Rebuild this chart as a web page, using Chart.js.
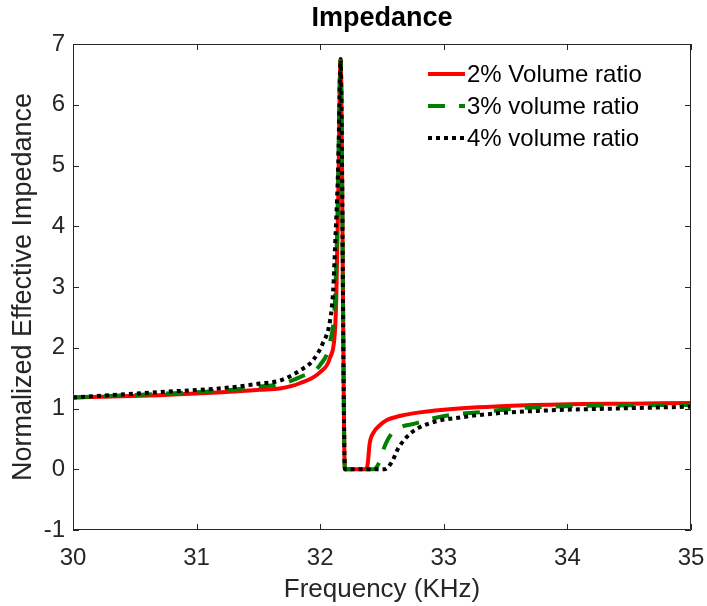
<!DOCTYPE html>
<html>
<head>
<meta charset="utf-8">
<script src="https://cdn.jsdelivr.net/npm/chart.js@4"></script>
<style>
  html, body { margin: 0; padding: 0; background: #fff; }
  #wrap { width: 707px; height: 606px; }
</style>
</head>
<body>
<div id="wrap"><canvas id="impedanceChart" width="707" height="606"></canvas></div>
<script>
const seriesLabels = ["2% Volume ratio", "3% volume ratio", "4% volume ratio"];

// frequency (KHz) / normalized impedance
const freq2 = [30, 30.7, 31.24, 31.51, 31.675, 31.84, 32.0, 32.08, 32.12, 32.13, 32.146, 32.165, 32.2,
  32.37, 32.385, 32.4, 32.43, 32.48, 32.54, 32.65, 32.75, 33.0, 33.5, 34.0, 34.5, 35];
const imp2 = [1.18, 1.22, 1.27, 1.31, 1.33, 1.42, 1.6, 1.84, 2.29, 2.83, 4.47, 6.75, 0,
  0, 0.1, 0.42, 0.6, 0.72, 0.81, 0.88, 0.92, 0.98, 1.04, 1.07, 1.08, 1.09];

const freq3 = [30, 30.7, 31.24, 31.51, 31.675, 31.84, 32.0, 32.08, 32.12, 32.14, 32.165, 32.2,
  32.43, 32.48, 32.52, 32.58, 32.78, 33.04, 33.31, 33.58, 33.86, 34.4, 35];
const imp3 = [1.18, 1.24, 1.3, 1.36, 1.4, 1.52, 1.72, 2.1, 2.8, 4.2, 6.75, 0,
  0, 0.12, 0.37, 0.59, 0.76, 0.89, 0.94, 1.0, 1.03, 1.05, 1.06];

const freq4 = [30, 30.7, 31.24, 31.51, 31.675, 31.84, 31.94, 32.02, 32.08, 32.105, 32.12, 32.146, 32.165, 32.2,
  32.52, 32.58, 32.63, 32.73, 32.89, 33.16, 33.43, 33.86, 34.4, 35];
const imp4 = [1.18, 1.27, 1.34, 1.41, 1.46, 1.63, 1.79, 2.07, 2.45, 2.95, 3.66, 5.03, 6.75, 0,
  0, 0.12, 0.34, 0.59, 0.76, 0.86, 0.92, 0.97, 1.0, 1.03];

const xTicks = [30, 31, 32, 33, 34, 35];
const yTicks = [-1, 0, 1, 2, 3, 4, 5, 6, 7];

const toPoints = (xs, ys) => xs.map((x, i) => ({ x: x, y: ys[i] }));

const FONT = "'Liberation Sans', Arial, Helvetica, sans-serif";
const AXIS_COLOR = "#262626";

// box around the plot with inward tick marks, MATLAB style
const boxTicks = {
  id: "boxTicks",
  afterDatasetsDraw(chart) {
    const { ctx, chartArea: a, scales } = chart;
    const len = 6;
    ctx.save();
    ctx.strokeStyle = AXIS_COLOR;
    ctx.lineWidth = 1;
    ctx.beginPath();
    ctx.rect(a.left + 0.5, a.top + 0.5, a.right - a.left - 1, a.bottom - a.top - 1);
    xTicks.forEach((v) => {
      const px = Math.round(scales.x.getPixelForValue(v)) + 0.5;
      ctx.moveTo(px, a.bottom);
      ctx.lineTo(px, a.bottom - len);
      ctx.moveTo(px, a.top);
      ctx.lineTo(px, a.top + len);
    });
    yTicks.forEach((v) => {
      const py = Math.round(scales.y.getPixelForValue(v)) + 0.5;
      ctx.moveTo(a.left, py);
      ctx.lineTo(a.left + len, py);
      ctx.moveTo(a.right, py);
      ctx.lineTo(a.right - len, py);
    });
    ctx.stroke();
    ctx.restore();
  },
};

// legend inside the axes, top right, no box
const innerLegend = {
  id: "innerLegend",
  afterDraw(chart) {
    const { ctx } = chart;
    const x0 = 428, x1 = 465, y0 = 74, rowH = 32;
    ctx.save();
    ctx.font = "24px " + FONT;
    ctx.textBaseline = "middle";
    ctx.fillStyle = "#000";
    chart.data.datasets.forEach((ds, i) => {
      const y = y0 + i * rowH;
      ctx.strokeStyle = ds.borderColor;
      ctx.lineWidth = ds.borderWidth;
      ctx.setLineDash(ds.borderDash || []);
      ctx.beginPath();
      ctx.moveTo(x0, y);
      ctx.lineTo(x1, y);
      ctx.stroke();
      ctx.fillText(ds.label, x1 + 2, y + 1);
    });
    ctx.restore();
  },
};

new Chart(document.getElementById("impedanceChart"), {
  type: "line",
  data: {
    datasets: [
      {
        label: seriesLabels[0],
        data: toPoints(freq2, imp2),
        borderColor: "#ff0000",
        borderWidth: 4,
        order: 3,
      },
      {
        label: seriesLabels[1],
        data: toPoints(freq3, imp3),
        borderColor: "#008000",
        borderWidth: 4,
        borderDash: [17, 14],
        order: 2,
      },
      {
        label: seriesLabels[2],
        data: toPoints(freq4, imp4),
        borderColor: "#000000",
        borderWidth: 4,
        borderDash: [4, 4],
        order: 1,
      },
    ],
  },
  options: {
    responsive: false,
    animation: false,
    devicePixelRatio: 1,
    layout: { padding: { left: 0, right: 16, top: 0, bottom: 0 } },
    elements: {
      point: { radius: 0 },
      line: { cubicInterpolationMode: "monotone", borderCapStyle: "butt", fill: false },
    },
    plugins: {
      legend: { display: false },
      tooltip: { enabled: false },
      title: {
        display: true,
        text: "Impedance",
        fullSize: false,
        color: "#000",
        font: { family: FONT, size: 27, weight: "bold" },
        padding: { top: 2, bottom: 9.6 },
      },
    },
    scales: {
      x: {
        type: "linear",
        min: 30,
        max: 35,
        grid: { display: false, drawTicks: false },
        border: { display: false },
        afterBuildTicks: (scale) => { scale.ticks = xTicks.map((v) => ({ value: v })); },
        afterFit: (scale) => {
          scale.height = 76;
          scale.paddingLeft = 0;
          scale.paddingRight = 0;
        },
        ticks: {
          color: AXIS_COLOR,
          font: { family: FONT, size: 24 },
          padding: 14,
          maxRotation: 0,
        },
        title: {
          display: true,
          text: "Frequency (KHz)",
          color: AXIS_COLOR,
          font: { family: FONT, size: 26 },
          padding: { top: 0, bottom: 1 },
        },
      },
      y: {
        min: -1,
        max: 7,
        grid: { display: false, drawTicks: false },
        border: { display: false },
        afterBuildTicks: (scale) => { scale.ticks = yTicks.map((v) => ({ value: v })); },
        afterFit: (scale) => {
          scale.width = 73;
          scale.paddingTop = 0;
          scale.paddingBottom = 0;
        },
        ticks: {
          color: AXIS_COLOR,
          font: { family: FONT, size: 24 },
          padding: 8,
        },
        title: {
          display: true,
          text: "Normalized Effective Impedance",
          color: AXIS_COLOR,
          font: { family: FONT, size: 27 },
          padding: { top: 7, bottom: 0 },
        },
      },
    },
  },
  plugins: [boxTicks, innerLegend],
});
</script>
</body>
</html>
